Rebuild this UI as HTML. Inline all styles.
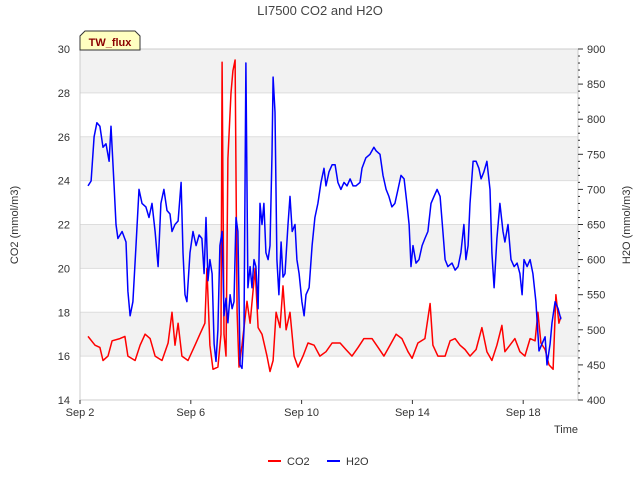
<!DOCTYPE html>
<html><head><meta charset="utf-8"><style>
body{margin:0;background:#fff;}
svg{display:block;font-family:"Liberation Sans","DejaVu Sans",sans-serif;}
</style></head><body>
<svg id="chart" width="640" height="480" viewBox="0 0 640 480">
<text x="320" y="15" text-anchor="middle" font-size="13" fill="#444">LI7500 CO2 and H2O</text>
<g id="bands"></g>
<g id="grid"></g>
<g id="lines"></g>
<rect x="80" y="49" width="498" height="351" fill="none" stroke="#ccc"/>
<g id="axes"></g>
<text transform="translate(18,225) rotate(-90)" text-anchor="middle" font-size="11" fill="#333">CO2 (mmol/m3)</text>
<text transform="translate(630,225) rotate(-90)" text-anchor="middle" font-size="11" fill="#333">H2O (mmol/m3)</text>
<text x="566" y="433" text-anchor="middle" font-size="11" fill="#333">Time</text>
<g>
<path d="M80,50 L80,36 L85,31 L135,31 L140,36 L140,50 Z" fill="#ffffc0" stroke="#333" stroke-width="1"/>
<text x="110" y="46" text-anchor="middle" font-size="11" font-weight="bold" fill="#8b0000">TW_flux</text>
</g>
<g>
<line x1="268" y1="461" x2="281" y2="461" stroke="#f00" stroke-width="2"/>
<text x="287" y="465" font-size="11" fill="#333">CO2</text>
<line x1="327" y1="461" x2="340" y2="461" stroke="#00f" stroke-width="2"/>
<text x="346" y="465" font-size="11" fill="#333">H2O</text>
</g>
</svg>
<script>
const xTickDays=[2,6,10,14,18];
const xTickLabels=["Sep 2","Sep 6","Sep 10","Sep 14","Sep 18"];
const leftTicks=[14,16,18,20,22,24,26,28,30];
const rightTicks=[400,450,500,550,600,650,700,750,800,850,900];
const co2Days=[2.29,2.54,2.72,2.83,3.01,3.16,3.44,3.62,3.73,3.99,4.17,4.35,4.53,4.71,4.96,5.18,5.32,5.43,5.54,5.68,5.90,6.15,6.33,6.51,6.58,6.69,6.80,6.98,7.09,7.13,7.20,7.27,7.34,7.45,7.52,7.60,7.67,7.74,7.85,8.03,8.14,8.32,8.43,8.57,8.75,8.86,8.97,9.08,9.22,9.33,9.44,9.58,9.73,9.87,10.05,10.23,10.45,10.66,10.88,11.10,11.39,11.60,11.82,12.04,12.25,12.54,12.76,12.97,13.19,13.41,13.62,13.84,13.99,14.20,14.45,14.64,14.74,14.92,15.18,15.36,15.54,15.72,15.90,16.08,16.30,16.51,16.69,16.87,17.05,17.23,17.34,17.52,17.70,17.88,18.06,18.25,18.43,18.53,18.64,18.79,18.93,19.08,19.18,19.29,19.36];
const co2Values=[16.9,16.5,16.4,15.8,16.0,16.7,16.8,16.9,16.0,15.8,16.5,17.0,16.8,16.0,15.8,16.6,18.0,16.5,17.5,16.0,15.8,16.5,17.0,17.5,20.0,16.5,15.4,15.5,17.0,29.4,17.0,16.0,25,28,29.0,29.5,18,15.5,16.5,18.5,17.5,20,17.3,17.0,16.0,15.3,15.8,18.0,17.3,19.2,17.2,18.0,16.0,15.5,16.0,16.6,16.5,16.0,16.2,16.6,16.6,16.3,16.0,16.4,16.8,16.8,16.4,16.0,16.5,17.0,16.8,16.2,15.9,16.6,16.8,18.4,16.5,16.0,16.0,16.7,16.8,16.5,16.3,16.0,16.3,17.3,16.2,15.8,16.5,17.4,16.2,16.5,16.8,16.2,16.0,16.8,16.7,18.0,16.6,16.3,15.6,15.4,18.8,17.5,17.8];
const h2oDays=[2.29,2.40,2.51,2.61,2.72,2.83,2.94,3.05,3.12,3.23,3.30,3.37,3.52,3.66,3.73,3.81,3.91,4.02,4.13,4.24,4.38,4.49,4.60,4.71,4.82,4.92,5.03,5.14,5.25,5.32,5.43,5.54,5.65,5.72,5.79,5.86,5.97,6.08,6.19,6.30,6.40,6.48,6.55,6.62,6.69,6.77,6.84,6.91,6.98,7.05,7.13,7.20,7.27,7.34,7.42,7.49,7.56,7.63,7.70,7.78,7.85,7.92,7.99,8.06,8.14,8.21,8.28,8.35,8.43,8.50,8.57,8.64,8.71,8.79,8.86,8.93,8.97,9.04,9.11,9.18,9.26,9.33,9.40,9.51,9.58,9.66,9.76,9.83,9.91,10.01,10.09,10.16,10.27,10.38,10.48,10.59,10.70,10.81,10.88,10.99,11.10,11.21,11.31,11.42,11.53,11.64,11.75,11.86,11.96,12.11,12.18,12.32,12.47,12.61,12.69,12.83,12.94,13.05,13.15,13.26,13.37,13.48,13.59,13.70,13.80,13.88,13.95,14.02,14.13,14.24,14.35,14.45,14.56,14.67,14.78,14.89,15.00,15.10,15.18,15.28,15.43,15.54,15.65,15.75,15.86,15.93,16.01,16.08,16.19,16.30,16.40,16.48,16.58,16.69,16.80,16.87,16.95,17.05,17.16,17.27,17.34,17.45,17.56,17.67,17.78,17.88,17.96,18.03,18.14,18.25,18.35,18.46,18.57,18.68,18.79,18.86,18.97,19.04,19.15,19.26,19.36];
const h2oValues=[705,712,775,795,790,760,765,740,790,705,650,630,640,625,555,520,540,620,700,680,675,660,680,640,590,680,700,670,665,640,650,655,710,610,550,540,610,640,620,635,630,580,660,570,600,580,480,455,500,620,640,520,545,510,550,530,540,660,640,450,445,500,880,560,590,560,600,590,530,680,650,680,610,600,620,750,860,810,600,550,625,575,580,650,690,640,650,600,580,540,520,550,560,620,660,680,710,730,705,725,735,735,710,700,710,705,715,705,705,710,730,745,750,760,755,750,720,700,690,675,680,700,720,715,680,650,590,620,595,600,620,630,640,680,690,700,690,640,600,590,595,585,590,610,650,600,620,680,740,740,730,715,725,740,700,610,560,630,680,640,625,650,600,590,595,580,550,600,590,600,580,540,470,480,490,450,480,510,540,530,515];

const NS='http://www.w3.org/2000/svg';
const L=80,R=578,T=49,B=400;
const xS=d=>L+(d-2)*27.7;
const yL=v=>B-(v-14)/16*(B-T);
const yR=v=>B-(v-400)/500*(B-T);
function mk(tag,attrs,parent){const e=document.createElementNS(NS,tag);for(const k in attrs)e.setAttribute(k,attrs[k]);parent.appendChild(e);return e;}
const bands=document.getElementById('bands'),grid=document.getElementById('grid'),axes=document.getElementById('axes'),lines=document.getElementById('lines');
for(let i=0;i<leftTicks.length-1;i++){
  if(i%2===1){const r=mk('rect',{x:L,y:yL(leftTicks[i+1]),width:R-L,height:yL(leftTicks[i])-yL(leftTicks[i+1]),fill:'#f2f2f2'},bands);
  
  }
}
leftTicks.forEach(v=>{
  const g=mk('line',{x1:L,x2:R,y1:yL(v),y2:yL(v),stroke:'#ddd'},grid);
  
  
  const t=mk('text',{x:L-10,y:yL(v)+4,'text-anchor':'end','font-size':11,fill:'#333'},axes);
  
  
  t.textContent=v;
});
rightTicks.forEach(v=>{
  const tk=mk('line',{x1:R,x2:R+5,y1:yR(v),y2:yR(v),stroke:'#333'},axes);
  
  
  const t=mk('text',{x:R+9,y:yR(v)+4,'font-size':11,fill:'#333'},axes);
  
  
  t.textContent=v;
});
for(let v=410;v<900;v+=10){if(v%50===0)continue;
  const m=mk('line',{x1:R,x2:R+2,y1:yR(v),y2:yR(v),stroke:'#333'},axes);
  
  }
xTickDays.forEach((d,i)=>{
  const tk=mk('line',{x1:xS(d),x2:xS(d),y1:B,y2:B+4,stroke:'#333'},axes);
  
  
  const t=mk('text',{x:xS(d),y:B+16,'text-anchor':'middle','font-size':11,fill:'#333'},axes);
  
  
  t.textContent=xTickLabels[i];
});
const co2=mk('polyline',{points:co2Days.map((d,i)=>xS(d).toFixed(1)+','+yL(co2Values[i]).toFixed(1)).join(' '),fill:'none',stroke:'#f00','stroke-width':1.5,'stroke-linejoin':'round'},lines);


const h2o=mk('polyline',{points:h2oDays.map((d,i)=>xS(d).toFixed(1)+','+yR(h2oValues[i]).toFixed(1)).join(' '),fill:'none',stroke:'#00f','stroke-width':1.5,'stroke-linejoin':'round'},lines);


</script>
</body></html>
